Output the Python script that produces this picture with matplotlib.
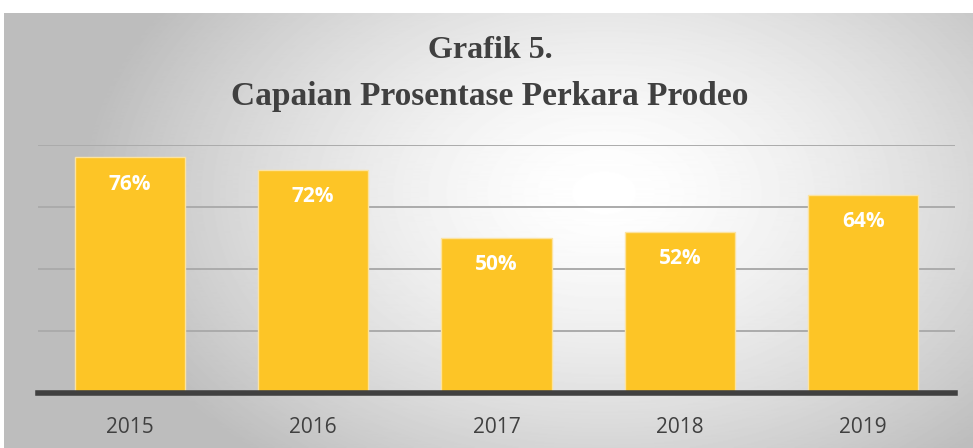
import numpy as np
import matplotlib
matplotlib.use("Agg")
import matplotlib.pyplot as plt

# data
years = ["2015", "2016", "2017", "2018", "2019"]
percent = [76, 72, 50, 52, 64]

W, H = 973, 448
fig = plt.figure(figsize=(W / 100, H / 100), dpi=100)
fig.patch.set_facecolor("white")

# gradient background (radial, light in the middle)
bg = fig.add_axes([4 / W, 0, 1 - 4 / W, 435 / H])
yy, xx = np.mgrid[0:435, 0:969]
d = np.sqrt(((xx - 600) / 600.0) ** 2 + ((yy - 180) / 400.0) ** 2)
shade = np.clip(1.0 - 0.32 * d ** 1.5, 0.74, 1.0)
bg.imshow(shade, cmap="gray", vmin=0, vmax=1, aspect="auto",
          extent=[0, 1, 0, 1], origin="upper")
bg.axis("off")

ax = fig.add_axes([38 / W, 55 / H, 917 / W, 248 / H])
ax.patch.set_alpha(0)
x = np.arange(len(years))
ax.bar(x, percent, width=0.6, color="#FDC526", edgecolor="#FCE3A0",
       linewidth=1.0, zorder=3)
ax.set_xlim(-0.5, len(years) - 0.5)
ax.set_ylim(0, 80)
ax.set_yticks([20, 40, 60, 80])
ax.yaxis.grid(True, color="#ABABAB", linewidth=1.4, zorder=0)
ax.tick_params(axis="y", length=0, labelleft=False)
ax.tick_params(axis="x", length=0, pad=17)
ax.set_xticks(x)
ax.set_xticklabels(years, fontsize=15, color="#404040", family="Open Sans")
for s in ["top", "right", "left"]:
    ax.spines[s].set_visible(False)
ax.spines["bottom"].set_color("#404040")
ax.spines["bottom"].set_linewidth(4)
ax.spines["bottom"].set_zorder(4)

# value labels inside the bars
for xi, v in zip(x, percent):
    ax.text(xi, v - 8.7, f"{v}%", ha="center", va="center", color="white",
            fontsize=15, fontweight="bold", family="Open Sans", zorder=5)

fig.text(0.5035, (H - 50) / H, "Grafik 5.", ha="center", va="center",
         fontsize=23, fontweight="bold", family="Liberation Serif", color="#404040")
fig.text(0.5035, (H - 97) / H, "Capaian Prosentase Perkara Prodeo", ha="center",
         va="center", fontsize=24, fontweight="bold", family="Liberation Serif",
         color="#404040")

fig.savefig("out.png", dpi=100, facecolor="white")
